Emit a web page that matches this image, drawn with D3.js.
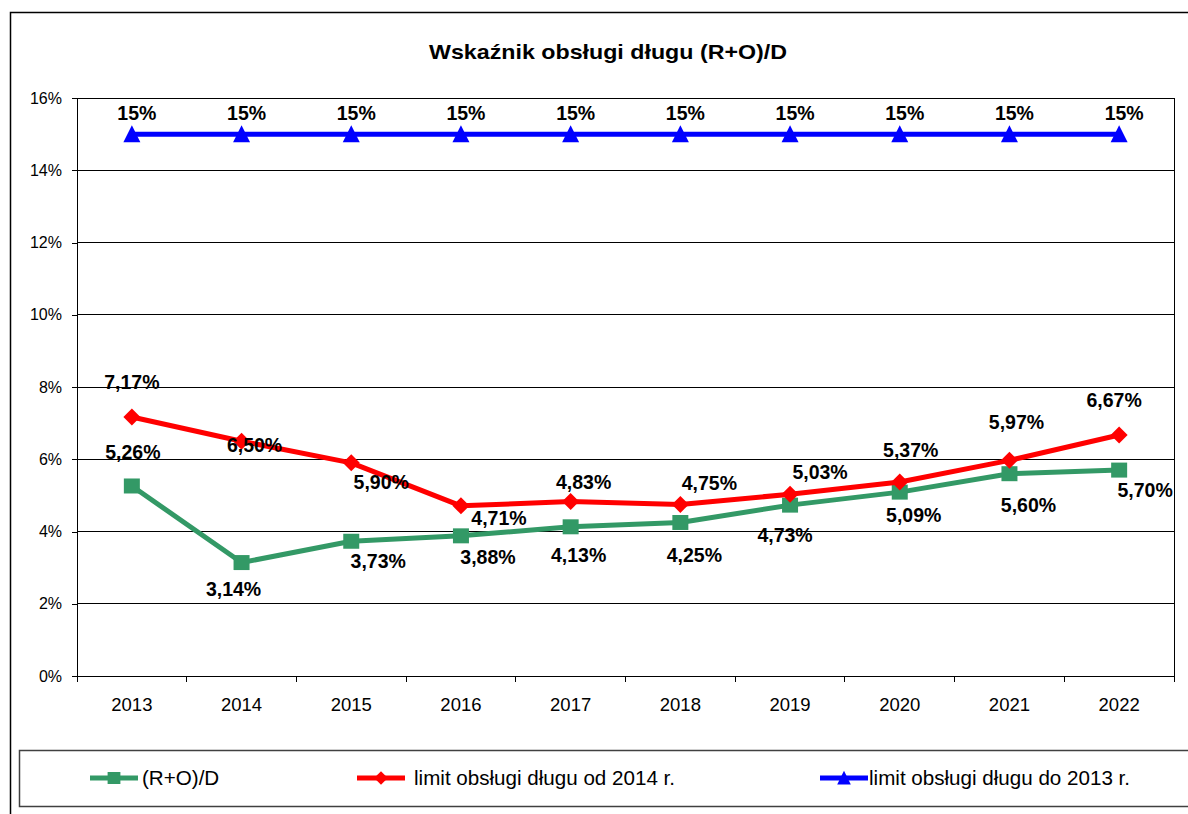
<!DOCTYPE html>
<html><head><meta charset="utf-8">
<script src="https://cdn.jsdelivr.net/npm/d3@7"></script>
<style>
html,body{margin:0;padding:0;background:#fff;}
svg{display:block;font-family:"Liberation Sans",Arial,sans-serif;}
</style></head>
<body><svg id="c" width="1188" height="814"></svg>
<script>
// ---- data ----
const years = ["2013","2014","2015","2016","2017","2018","2019","2020","2021","2022"];
const ratioRO_D = [5.26, 3.14, 3.73, 3.88, 4.13, 4.25, 4.73, 5.09, 5.60, 5.70];
const limitFrom2014 = [7.17, 6.50, 5.90, 4.71, 4.83, 4.75, 5.03, 5.37, 5.97, 6.67];
const limitTo2013 = [15, 15, 15, 15, 15, 15, 15, 15, 15, 15];
const yTicks = [0, 2, 4, 6, 8, 10, 12, 14, 16];
const title = "Wskaźnik obsługi długu (R+O)/D";
const seriesNames = ["(R+O)/D", "limit obsługi długu od 2014 r.", "limit obsługi długu do 2013 r."];

// label offsets (styling, relative to each point)
const greenLabelOff = [[1,-34],[-8,27],[27,20],[27,21],[8,28],[14,33],[-5,30],[14,23],[19,31],[26,20]];
const redLabelOff   = [[0,-35],[13,4],[30,19],[38,12],[13,-19],[29,-21],[30,-22],[11,-32],[7,-38],[-5,-35]];
const blueLabelOff  = years.map(() => [5,-21]);

const svg = d3.select("#c");
const L = 77, R = 1174, T = 98, B = 676;

const x = d3.scaleBand().domain(years).range([L, R]).padding(0);
const y = d3.scaleLinear().domain([0, 16]).range([B, T]);
const loc = d3.formatLocale({decimal: ",", thousands: " ", grouping: [3], currency: ["", " zł"]});
const fmt2 = v => loc.format(".2f")(v) + "%";
const fmt0 = v => loc.format(".0f")(v) + "%";

// outer frame
svg.append("path").attr("d", "M10.5,1000 V12.5 H1300").attr("fill","none").attr("stroke","#000").attr("stroke-width",1.5);

// title
svg.append("text").attr("x", 608).attr("y", 59).attr("text-anchor","middle")
  .attr("font-size", 21).attr("font-weight","bold").attr("fill","#000")
  .attr("textLength", 358).attr("lengthAdjust","spacingAndGlyphs").text(title);

// gridlines
svg.append("g").selectAll("line").data(yTicks).join("line")
  .attr("x1", L).attr("x2", R).attr("y1", d => y(d)).attr("y2", d => y(d))
  .attr("stroke", "#000").attr("stroke-width", 1).attr("shape-rendering","crispEdges");
// right border
svg.append("line").attr("x1", R).attr("x2", R).attr("y1", T).attr("y2", B)
  .attr("stroke","#000").attr("shape-rendering","crispEdges");

// y axis
const yAxis = d3.axisLeft(y).tickValues(yTicks).tickFormat(d => d + "%").tickSize(5).tickPadding(10);
const gy = svg.append("g").attr("transform", `translate(${L},0)`).call(yAxis);
gy.select(".domain").attr("stroke","#000").attr("shape-rendering","crispEdges");
gy.selectAll(".tick line").attr("stroke","#000").attr("shape-rendering","crispEdges");
gy.selectAll(".tick text").attr("font-size", 16).attr("fill","#000").attr("font-family","Liberation Sans, Arial, sans-serif");

// x axis
const xAxis = d3.axisBottom(x).tickSize(0).tickPadding(22);
const gx = svg.append("g").attr("transform", `translate(0,${B})`).call(xAxis);
gx.select(".domain").remove();
gx.selectAll(".tick text").attr("font-size", 18.5).attr("fill","#000").attr("font-family","Liberation Sans, Arial, sans-serif");
svg.append("line").attr("x1", L).attr("x2", R).attr("y1", B).attr("y2", B).attr("stroke","#000").attr("shape-rendering","crispEdges");
const boundaries = years.map(d => x(d)).concat([x.range()[1]]);
svg.append("g").selectAll("line").data(boundaries).join("line")
  .attr("x1", d => d).attr("x2", d => d).attr("y1", B).attr("y2", B + 6)
  .attr("stroke","#000").attr("shape-rendering","crispEdges");

const cx = d => x(d) + x.bandwidth() / 2;
const line = d3.line().x(d => cx(d.year)).y(d => y(d.v));

const series = [
  {vals: ratioRO_D, color: "#339966", marker: "square", off: greenLabelOff, fmt: fmt2},
  {vals: limitFrom2014, color: "#FF0000", marker: "diamond", off: redLabelOff, fmt: fmt2},
  {vals: limitTo2013, color: "#0000FF", marker: "triangle", off: blueLabelOff, fmt: fmt0}
];

function markerPath(type) {
  if (type === "square") return "M-8,-7.5 H8 V7.5 H-8 Z";
  if (type === "diamond") return "M0,-8.5 L8.5,0 L0,8.5 L-8.5,0 Z";
  return "M0,-9 L8.5,8 L-8.5,8 Z";
}

series.forEach(s => {
  const pts = years.map((yr, i) => ({year: yr, v: s.vals[i], i}));
  svg.append("path").datum(pts).attr("d", line).attr("fill","none")
    .attr("stroke", s.color).attr("stroke-width", 5).attr("stroke-linejoin","round");
  svg.append("g").selectAll("path").data(pts).join("path")
    .attr("transform", d => `translate(${cx(d.year)},${y(d.v)})`)
    .attr("d", markerPath(s.marker)).attr("fill", s.color);
});

series.forEach(s => {
  const pts = years.map((yr, i) => ({year: yr, v: s.vals[i], i}));
  svg.append("g").selectAll("text").data(pts).join("text")
    .attr("x", d => cx(d.year) + s.off[d.i][0])
    .attr("y", d => y(d.v) + s.off[d.i][1])
    .attr("dy", "0.35em").attr("text-anchor","middle")
    .attr("font-size", 19.5).attr("font-weight","bold").attr("fill","#000")
    .text(d => s.fmt(d.v));
});

// legend
const lg = svg.append("g");
lg.append("path").attr("d", "M1300,750.5 H19.5 V806.5 H1300").attr("fill","none").attr("stroke","#404040").attr("stroke-width",1.5);
const legItems = [
  {x0: 90, color: "#339966", marker: "square", name: seriesNames[0], tx: 142},
  {x0: 357, color: "#FF0000", marker: "diamond", name: seriesNames[1], tx: 414},
  {x0: 820, color: "#0000FF", marker: "triangle", name: seriesNames[2], tx: 869}
];
const ly = 778;
legItems.forEach(it => {
  lg.append("line").attr("x1", it.x0).attr("x2", it.x0 + 48).attr("y1", ly).attr("y2", ly)
    .attr("stroke", it.color).attr("stroke-width", 5);
  lg.append("path").attr("transform", `translate(${it.x0 + 24},${ly}) scale(0.8)`)
    .attr("d", markerPath(it.marker)).attr("fill", it.color);
  lg.append("text").attr("x", it.tx).attr("y", ly).attr("dy","0.35em")
    .attr("font-size", 20.6).attr("fill","#000").text(it.name);
});
</script>
</body></html>
